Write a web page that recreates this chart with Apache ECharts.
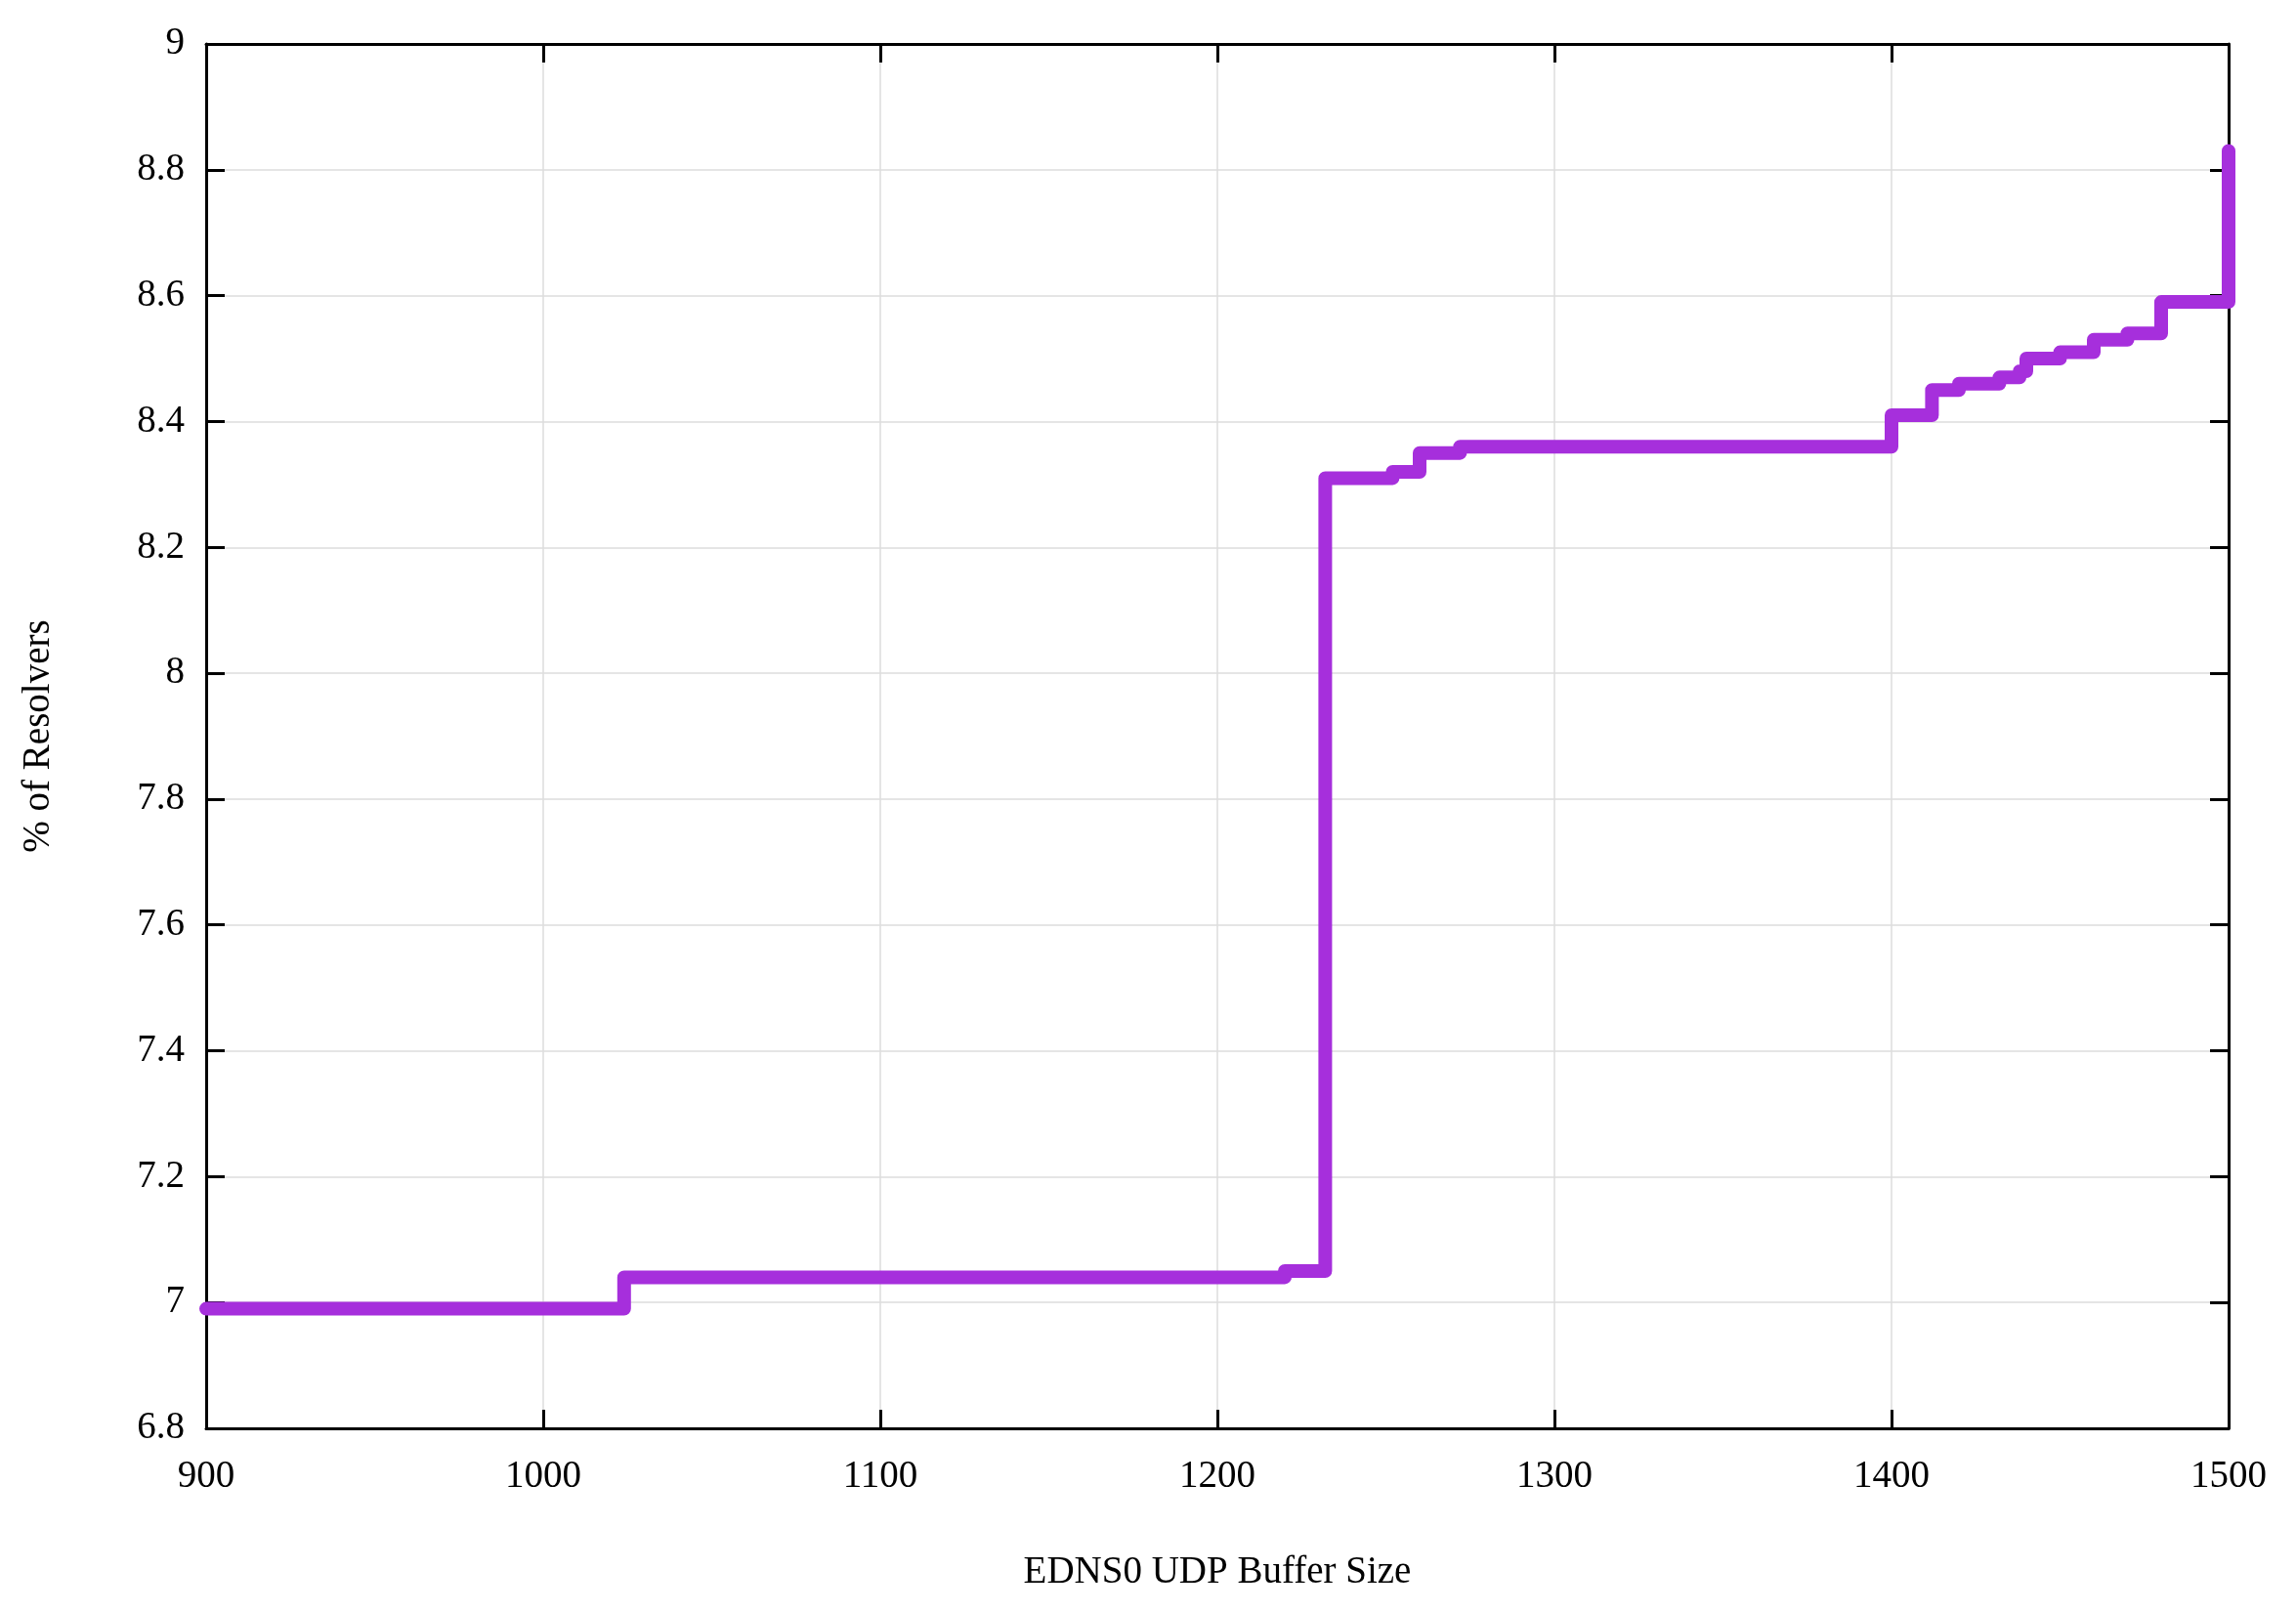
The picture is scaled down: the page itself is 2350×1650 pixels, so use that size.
<!DOCTYPE html>
<html>
<head>
<meta charset="utf-8">
<script src="https://cdn.jsdelivr.net/npm/echarts@6/dist/echarts.min.js"></script>
<style>html,body{margin:0;padding:0;background:#fff;}#c{width:2350px;height:1650px;}</style>
</head>
<body>
<div id="c"></div>
<script>
const bufferSizes = [900, 1024, 1220, 1232, 1252, 1260, 1272, 1400, 1412, 1420, 1432, 1438, 1440, 1450, 1460, 1470, 1480, 1500];
const resolverPct = [6.99, 7.04, 7.05, 8.31, 8.32, 8.35, 8.36, 8.41, 8.45, 8.46, 8.47, 8.48, 8.50, 8.51, 8.53, 8.54, 8.59, 8.83];
const xTitle = 'EDNS0 UDP Buffer Size';
const yTitle = '% of Resolvers';

const FONT = 'Liberation Serif';
const chart = echarts.init(document.getElementById('c'), null, {renderer: 'canvas'});
const axisLine = {show: true, lineStyle: {color: '#000', width: 3}};
const tick = {show: true, inside: true, length: 19, lineStyle: {color: '#000', width: 3}};
const grid = {show: true, lineStyle: {color: '#dcdcdc', width: 1.5}};
const lbl = {color: '#000', fontFamily: FONT, fontSize: 39};

chart.setOption({
  animation: false,
  backgroundColor: '#fff',
  grid: {left: 211, right: 69, top: 45, bottom: 188, containLabel: false},
  xAxis: [
    {type: 'value', min: 900, max: 1500, interval: 100, position: 'bottom',
     axisLine: axisLine, axisTick: tick, splitLine: grid,
     axisLabel: Object.assign({margin: 30, formatter: v => String(v)}, lbl),
     name: xTitle, nameLocation: 'middle', nameGap: 128,
     nameTextStyle: {color: '#000', fontFamily: FONT, fontSize: 39}},
    {type: 'value', min: 900, max: 1500, interval: 100, position: 'top',
     axisLine: axisLine, axisTick: tick, splitLine: {show: false}, axisLabel: {show: false}}
  ],
  yAxis: [
    {type: 'value', min: 6.8, max: 9, interval: 0.2, position: 'left',
     axisLine: axisLine, axisTick: tick, splitLine: grid,
     axisLabel: Object.assign({margin: 22, formatter: v => String(+v.toFixed(1))}, lbl),
     name: yTitle, nameLocation: 'middle', nameGap: 152, nameRotate: 90,
     nameTextStyle: {color: '#000', fontFamily: FONT, fontSize: 39}},
    {type: 'value', min: 6.8, max: 9, interval: 0.2, position: 'right',
     axisLine: axisLine, axisTick: tick, splitLine: {show: false}, axisLabel: {show: false}}
  ],
  series: [{
    type: 'line',
    step: 'end',
    data: bufferSizes.map((x, i) => [x, resolverPct[i]]),
    showSymbol: false,
    symbol: 'none',
    lineStyle: {color: '#a62fdc', width: 14, cap: 'round', join: 'round'},
    z: 1
  }]
});
</script>
</body>
</html>
